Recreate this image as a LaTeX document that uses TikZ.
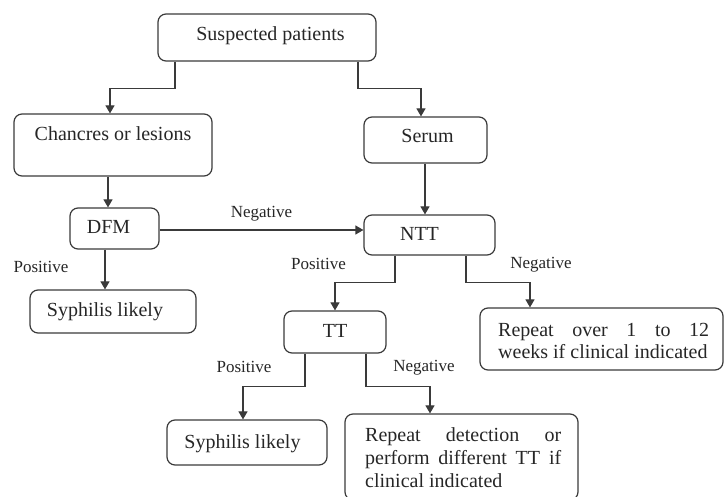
\documentclass[tikz,border=0pt]{standalone}
\usepackage{fontspec}
\setmainfont{Liberation Serif}
\usetikzlibrary{arrows.meta}
\definecolor{linec}{HTML}{3A3A3A}
\definecolor{textc}{HTML}{262626}
\begin{document}
\begin{tikzpicture}[x=1pt,y=-1pt,
  flowbox/.style={draw=linec, line width=1.2pt, rounded corners=8pt, text=textc,
    font=\fontsize{20}{22}\selectfont, text height=14pt},
  arr/.style={draw=linec, line width=1.2pt, -{Triangle[length=8pt,width=9pt]}},
  lbl/.style={text=textc, font=\fontsize{17}{19}\selectfont, anchor=base, inner sep=0pt},
  multi/.style={text=textc, anchor=base west, inner sep=0pt}]
\useasboundingbox (0,0) rectangle (724,497);

% boxes
\node[flowbox, minimum width=218pt, minimum height=47pt, text depth=7pt] (sus) at (267,37.5) {\hspace*{7pt}Suspected patients};
\node[flowbox, minimum width=198pt, minimum height=62pt, text depth=22.6pt] (chan) at (113,145) {Chancres or lesions};
\node[flowbox, minimum width=123pt, minimum height=46pt, text depth=8.6pt] (serum) at (425.5,140) {\hspace*{4pt}Serum};
\node[flowbox, minimum width=89pt, minimum height=41pt, text depth=4.4pt] (dfm) at (114.5,228.5) {\hspace*{-12pt}DFM};
\node[flowbox, minimum width=131pt, minimum height=40pt, text depth=2.6pt] (ntt) at (429.5,235) {\hspace*{-20pt}NTT};
\node[flowbox, minimum width=166pt, minimum height=43pt, text depth=3.6pt] (syph1) at (113,311.5) {\hspace*{-16pt}Syphilis likely};
\node[flowbox, minimum width=102pt, minimum height=42pt, text depth=3.4pt] (tt) at (335,332) {TT};
\node[flowbox, minimum width=160pt, minimum height=45pt, text depth=2.4pt] (syph2) at (247,442.5) {\hspace*{-9pt}Syphilis likely};
\node[flowbox, minimum width=243pt, minimum height=62pt] (rep1) at (601.5,339) {};
\node[flowbox, minimum width=233pt, minimum height=86pt] (rep2) at (461.5,457) {};

% multi-line texts
\node[multi] (rep1t) at (498,337) {\fontsize{20}{22}\selectfont\begin{tabular}[t]{@{}l@{}}\makebox[211pt][s]{Repeat over 1 to 12}\\weeks if clinical indicated\end{tabular}};
\node[multi] (rep2t) at (365,441.7) {\fontsize{20}{23}\selectfont\begin{tabular}[t]{@{}l@{}}\makebox[196pt][s]{Repeat detection or}\\\makebox[196pt][s]{perform different TT if}\\clinical indicated\end{tabular}};

% connectors
\draw[arr] ([xshift=-92pt]sus.south) -- ++(0,27) -| ([xshift=-3pt]chan.north);
\draw[arr] ([xshift=91pt]sus.south) -- ++(0,27) -| ([xshift=-4.5pt]serum.north);
\draw[arr] ([xshift=-5pt]chan.south) -- ([xshift=-6.5pt]dfm.north);
\draw[arr] ([xshift=-0.5pt]serum.south) -- ([xshift=-4.5pt]ntt.north);
\draw[arr] ([yshift=-1.5pt]dfm.east) -- ([yshift=5pt]ntt.west);
\draw[arr] ([xshift=-9.5pt]dfm.south) -- ([xshift=-8pt]syph1.north);
\draw[arr] ([xshift=-34.5pt]ntt.south) -- ++(0,27) -| (tt.north);
\draw[arr] ([xshift=36.5pt]ntt.south) -- ++(0,27) -| ([xshift=-71.5pt]rep1.north);
\draw[arr] ([xshift=-30pt]tt.south) -- ++(0,33) -| ([xshift=-4pt]syph2.north);
\draw[arr] ([xshift=31pt]tt.south) -- ++(0,33) -| ([xshift=-31.5pt]rep2.north);

% labels
\node[lbl] (l1) at (261.5,218) {Negative};
\node[lbl] (l2) at (41,273) {Positive};
\node[lbl] (l3) at (318.5,270) {Positive};
\node[lbl] (l4) at (541,269) {Negative};
\node[lbl] (l5) at (244,373) {Positive};
\node[lbl] (l6) at (424,372) {Negative};
\end{tikzpicture}
\end{document}
